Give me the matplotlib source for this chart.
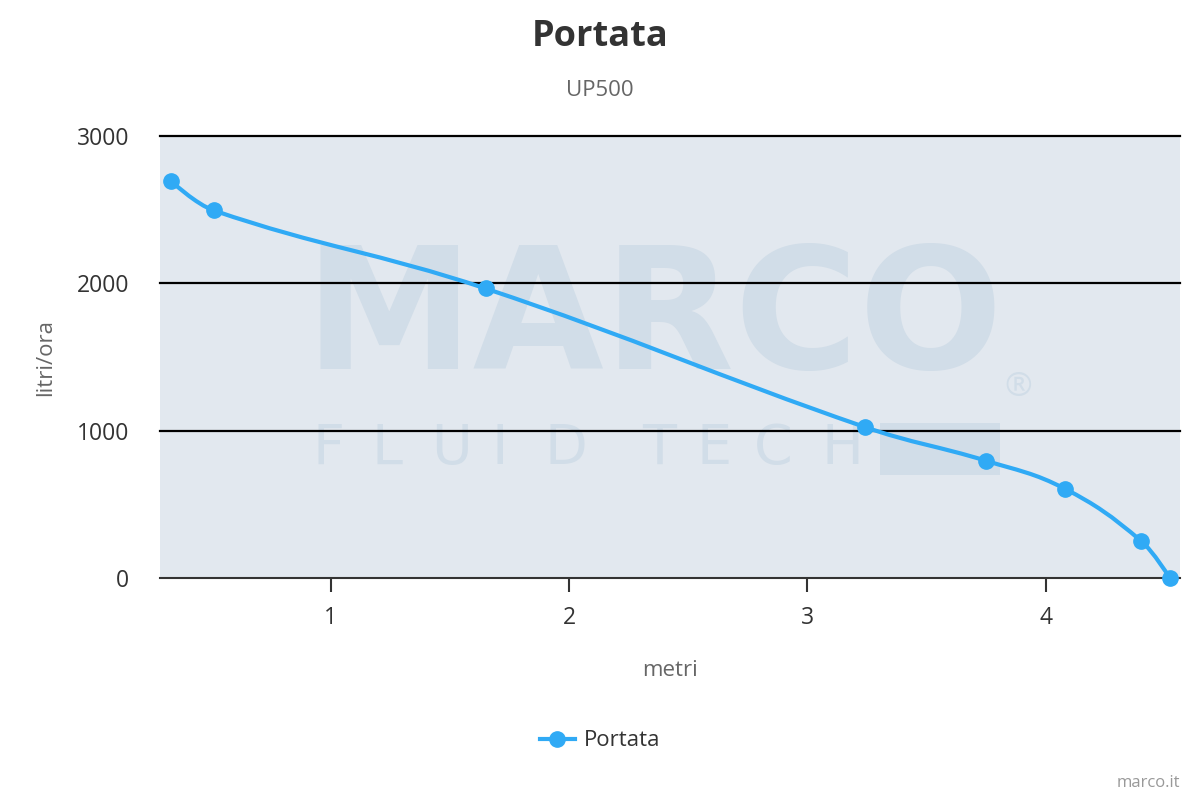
import numpy as np
import matplotlib.pyplot as plt
from matplotlib.path import Path
from matplotlib.patches import PathPatch, Rectangle
from matplotlib.lines import Line2D

plt.rcParams['font.family'] = ['Open Sans', 'DejaVu Sans']

# data (metri -> litri/ora)
metri = [0.33, 0.51, 1.65, 3.24, 3.75, 4.08, 4.40, 4.52]
portata = [2695, 2495, 1965, 1025, 795, 605, 250, 0]

x_ticks = [1, 2, 3, 4]
y_ticks = [0, 1000, 2000, 3000]

line_color = '#30aaf5'
bg_color = '#e2e8ef'
mark_color = '#d1dde8'


def spline_path(xs, ys, smoothing=1.5):
    # Highcharts-style spline: cubic bezier through every point
    n = len(xs)
    denom = smoothing + 1
    left = [None] * n
    right = [None] * n
    for i in range(1, n - 1):
        px, py = xs[i], ys[i]
        lx, ly = xs[i - 1], ys[i - 1]
        nx, ny = xs[i + 1], ys[i + 1]
        lcx = (smoothing * px + lx) / denom
        lcy = (smoothing * py + ly) / denom
        rcx = (smoothing * px + nx) / denom
        rcy = (smoothing * py + ny) / denom
        if rcx != lcx:
            corr = (rcy - lcy) * (rcx - px) / (rcx - lcx) + py - rcy
            lcy += corr
            rcy += corr
        if lcy > ly and lcy > py:
            lcy = max(ly, py)
            rcy = 2 * py - lcy
        elif lcy < ly and lcy < py:
            lcy = min(ly, py)
            rcy = 2 * py - lcy
        if rcy > ny and rcy > py:
            rcy = max(ny, py)
            lcy = 2 * py - rcy
        elif rcy < ny and rcy < py:
            rcy = min(ny, py)
            lcy = 2 * py - rcy
        left[i] = (lcx, lcy)
        right[i] = (rcx, rcy)
    verts = [(xs[0], ys[0])]
    codes = [Path.MOVETO]
    for i in range(1, n):
        c1 = right[i - 1] if right[i - 1] else (xs[i - 1], ys[i - 1])
        c2 = left[i] if left[i] else (xs[i], ys[i])
        verts += [c1, c2, (xs[i], ys[i])]
        codes += [Path.CURVE4] * 3
    return Path(verts, codes)


fig = plt.figure(figsize=(12, 8), dpi=100)
ax = fig.add_axes([160 / 1200, 1 - 578 / 800, 1020 / 1200, 442 / 800])
ax.set_facecolor(bg_color)

ax.set_xlim(0.285, 4.562)
ax.set_ylim(0, 3000)

# watermark logo
def ax_x(px):
    return (px - 160) / 1020


def ax_y(py):
    return 1 - (py - 136) / 442


ax.text(ax_x(654), ax_y(322), 'MARCO', transform=ax.transAxes, ha='center', va='center',
        fontsize=122, fontweight='bold', color=mark_color, family='DejaVu Sans', zorder=0)
letters = ['F', 'L', 'U', 'I', 'D', 'T', 'E', 'C', 'H']
letter_x = [328, 387, 451, 500, 566, 659, 714, 773, 842]
for ch, lx in zip(letters, letter_x):
    ax.text(ax_x(lx), ax_y(449), ch, transform=ax.transAxes, ha='center', va='center',
            fontsize=40, color=mark_color, family='DejaVu Sans', zorder=0)
ax.add_patch(Rectangle((ax_x(880), ax_y(475)), ax_x(1000) - ax_x(880), ax_y(423) - ax_y(475),
                       transform=ax.transAxes, color=mark_color, lw=0, zorder=0))
ax.text(ax_x(1018), ax_y(388), '®', transform=ax.transAxes, ha='center', va='center',
        fontsize=24, color=mark_color, zorder=0)

for v in y_ticks[1:]:
    ax.axhline(v, color='black', lw=1.6, zorder=1, clip_on=False)

ax.add_patch(PathPatch(spline_path(metri, portata), facecolor='none', edgecolor=line_color,
                       lw=3, zorder=3, clip_on=False))
ax.plot(metri, portata, 'o', color=line_color, ms=11, zorder=4, clip_on=False)

for s in ['top', 'right', 'left']:
    ax.spines[s].set_visible(False)
ax.spines['bottom'].set_color('#333333')
ax.spines['bottom'].set_linewidth(1.5)

ax.set_xticks(x_ticks)
ax.set_yticks(y_ticks)
ax.tick_params(axis='x', length=10, width=1.5, color='#333333', labelsize=16.5,
               labelcolor='#333333', pad=10)
ax.tick_params(axis='y', length=0, labelsize=16.5, labelcolor='#333333', pad=22)

ax.set_xlabel('metri', fontsize=16, color='#666666', labelpad=22)
ax.set_ylabel('litri/ora', fontsize=16, color='#666666', labelpad=10)
ax.yaxis.set_label_coords(-104 / 1020, 0.5)

fig.text(0.5, 1 - 37 / 800, 'Portata', ha='center', va='center', fontsize=26,
         fontweight='bold', color='#333333')
fig.text(0.5, 1 - 91 / 800, 'UP500', ha='center', va='center', fontsize=16, color='#666666')

handle = Line2D([], [], color=line_color, lw=3, marker='o', ms=11)
fig.legend([handle], ['Portata'], loc='center', bbox_to_anchor=(0.5, 1 - 741 / 800),
           frameon=False, fontsize=16, handlelength=1.6, handletextpad=0.4,
           labelcolor='#333333')

fig.text(1 - 20 / 1200, 1 - 783 / 800, 'marco.it', ha='right', va='center', fontsize=12,
         color='#999999')

fig.savefig('out.png', dpi=100)
